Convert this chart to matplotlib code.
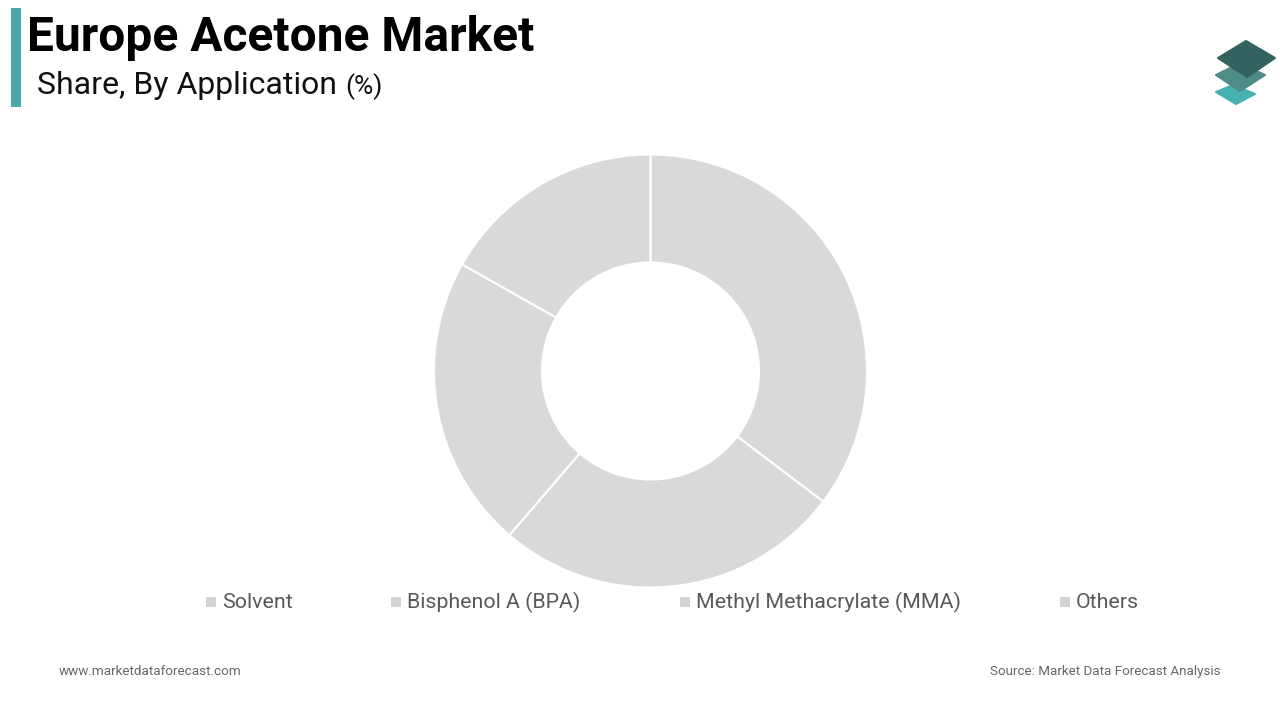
#!/usr/bin/env python3
"""Europe Acetone Market donut, all slices grey as in the source slide."""

import matplotlib
matplotlib.use('Agg')
import matplotlib.pyplot as plt
from matplotlib.patches import Polygon, Rectangle

plt.rcParams['font.family'] = ['Roboto', 'DejaVu Sans']

# Data
categories = ['Solvent', 'Bisphenol A (BPA)', 'Methyl Methacrylate (MMA)', 'Others']
shares = [35.3, 26.0, 21.9, 16.8]

SLICE_COLOR = '#D9D9D9'
TEAL = '#4BA9AB'

W, H = 1280, 720
fig = plt.figure(figsize=(12.8, 7.2), dpi=100, facecolor='white')

# Overlay in pixel coordinates for the slide furniture
bg = fig.add_axes([0, 0, 1, 1])
bg.set_xlim(0, W)
bg.set_ylim(H, 0)
bg.axis('off')

# Title block
bg.add_patch(Rectangle((11, 8), 10, 99, color=TEAL, lw=0))
bg.text(27, 51, 'Europe Acetone Market', fontsize=34.5, fontweight='bold',
        color='black', va='baseline', ha='left')
bg.text(37, 94, 'Share, By Application', fontsize=23, color='#111111',
        va='baseline', ha='left')
bg.text(345, 94, '(%)', fontsize=19, color='#111111', va='baseline', ha='left')

# Logo: stacked diamonds, bottom first
logo = [
    ([(1216, 92), (1233, 85), (1255, 94), (1236, 104)], '#46B0B3'),
    ([(1216, 75), (1240, 63), (1265, 75), (1240, 91)], '#4F8C88'),
    ([(1218, 58), (1246, 41), (1275, 58), (1247, 77)], '#33635F'),
]
for pts, col in logo:
    bg.add_patch(Polygon(pts, closed=True, facecolor=col, edgecolor=col,
                         lw=1.5, joinstyle='round'))

# Donut
cx, cy, radius = 650.5, 371, 216.5
pie_ax = fig.add_axes([(cx - radius) / W, 1 - (cy + radius) / H,
                       2 * radius / W, 2 * radius / H])
pie_ax.pie(shares, startangle=90, counterclock=False, radius=1,
           colors=[SLICE_COLOR] * len(shares),
           wedgeprops=dict(width=1 - 108.5 / radius, edgecolor='white', linewidth=1.5))
pie_ax.set_xlim(-1, 1)
pie_ax.set_ylim(-1, 1)

# Legend, hand spaced because the gaps are uneven
legend_marker_x = [206, 391, 680, 1060]
for name, mx in zip(categories, legend_marker_x):
    bg.add_patch(Rectangle((mx, 597), 9.5, 10, color='#D3D3D3', lw=0))
    bg.text(mx + 16, 608, name, fontsize=15.4, color='#595959', va='baseline', ha='left')

# Footer
bg.text(59, 675, 'www.marketdataforecast.com', fontsize=9.7, color='#666666',
        va='baseline', ha='left')
bg.text(1220, 675, 'Source: Market Data Forecast Analysis', fontsize=9.6,
        color='#666666', va='baseline', ha='right')

fig.savefig('out.png', dpi=100, facecolor='white')
plt.close(fig)
